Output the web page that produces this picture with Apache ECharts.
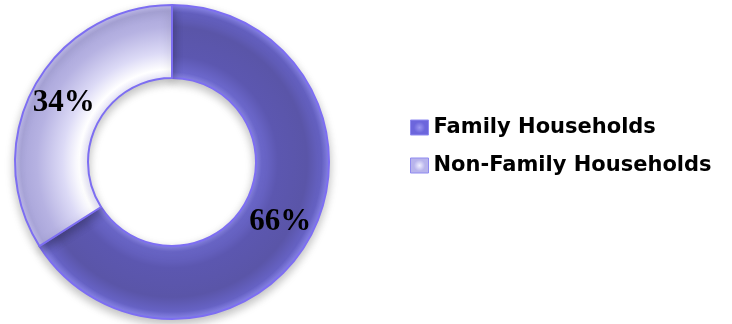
<!DOCTYPE html>
<html><head><meta charset="utf-8">
<script src="https://cdn.jsdelivr.net/npm/echarts@6/dist/echarts.min.js"></script>
<style>html,body{margin:0;padding:0;background:#fff}#c{width:732px;height:324px}</style>
</head><body><div id="c"></div>
<script>
const categories = ['Family Households', 'Non-Family Households'];
const values = [66, 34];

const cx = 172, cy = 162, rOut = 157, rIn = 84;
const f = rIn / rOut;
function ring(stops) {
  return { type: 'radial', x: cx, y: cy, r: rOut, global: true,
    colorStops: stops.map(s => ({ offset: f + (1 - f) * s[0], color: s[1] })) };
}
const darkFill = ring([[0, '#8a86e6'], [0.08, '#6c68cc'], [0.3, '#5c57b0'], [0.7, '#5a55a8'], [0.9, '#6662c4'], [1, '#8c88ee']]);
const lightFill = ring([[0, '#e8e6fb'], [0.12, '#ffffff'], [0.35, '#dcdaf6'], [0.7, '#b6b2e2'], [0.92, '#aaa6da'], [1, '#c4c0f0']]);
function iconFill(c1, c2) {
  return { type: 'radial', x: 0.5, y: 0.5, r: 0.7,
    colorStops: [{ offset: 0, color: c2 }, { offset: 0.5, color: c1 }, { offset: 1, color: c1 }] };
}

const chart = echarts.init(document.getElementById('c'));
chart.setOption({
  animation: false,
  legend: {
    orient: 'vertical', left: 405, top: 111, icon: 'rect',
    itemWidth: 18, itemHeight: 15, itemGap: 15,
    textStyle: { fontFamily: 'DejaVu Sans', fontWeight: 'bold', fontSize: 21, color: '#000', lineHeight: 23 },
    data: [
      { name: categories[0], itemStyle: { color: iconFill('#6c66dc', '#9a96f0'), borderColor: '#8f8af0', borderWidth: 1 } },
      { name: categories[1], itemStyle: { color: iconFill('#b8b4ec', '#f0efff'), borderColor: '#8f8af0', borderWidth: 1 } }
    ]
  },
  series: [{
    type: 'pie',
    center: [cx, cy], radius: [rIn, rOut],
    startAngle: 90, clockwise: true,
    label: { show: true, position: 'inside', formatter: '{c}%', fontFamily: 'Liberation Serif', fontWeight: 'bold', fontSize: 31, color: '#000' },
    labelLine: { show: false },
    emphasis: { disabled: true },
    itemStyle: { borderColor: '#7d6ef2', borderWidth: 2, shadowBlur: 10, shadowColor: 'rgba(0,0,0,0.25)', shadowOffsetY: 4 },
    data: [
      { name: categories[0], value: values[0], itemStyle: { color: darkFill } },
      { name: categories[1], value: values[1], itemStyle: { color: lightFill } }
    ]
  }]
});
</script></body></html>
